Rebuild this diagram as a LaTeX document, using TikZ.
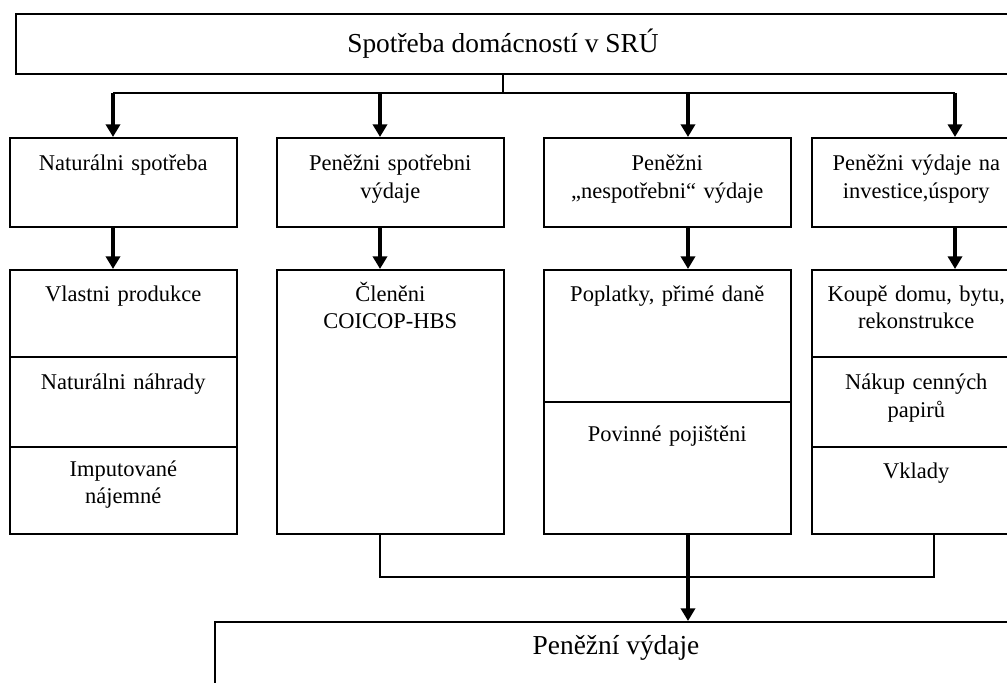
\documentclass[tikz,border=0pt]{standalone}
\usepackage{fontspec}
\setmainfont{Liberation Serif}
\usetikzlibrary{arrows.meta}

\tikzset{
  sect/.style={draw, line width=1.1pt, anchor=north west, inner sep=0pt},
  txt/.style={anchor=north, yshift=-0.44cm, inner sep=0pt, text width=5.1cm,
    align=center, text height=11pt, font=\fontsize{16}{19.8}\selectfont},
  bigtxt/.style={inner sep=0pt, font=\fontsize{19.5}{23}\selectfont},
  wire/.style={line width=0.9pt},
  arr/.style={line width=2.6pt, -{Triangle[width=10pt,length=9pt]}}
}

\begin{document}
\begin{tikzpicture}
  \useasboundingbox (0,0) rectangle (25.175,17.05);
  \clip (0,0) rectangle (25.175,17.05);
  %\draw (0, 0) grid (25, 17);

  \node[sect, minimum width=25.125cm, minimum height=1.5cm] (top) at (0.375,16.725) {};
  \node[bigtxt] (toptxt) at (12.575,15.95) {Spotřeba domácností v SRÚ};

  % first row
  \node[sect, minimum width=5.675cm, minimum height=2.225cm,
    label={[txt]north:{Naturálni spotřeba}}] (n1) at (0.225,13.625) {};
  \node[sect, minimum width=5.675cm, minimum height=2.225cm,
    label={[txt]north:{Peněžni spotřebni\\výdaje}}] (n2) at (6.9,13.625) {};
  \node[sect, minimum width=6.175cm, minimum height=2.225cm,
    label={[txt]north:{Peněžni\\„nespotřebni“ výdaje}}] (n3) at (13.575,13.625) {};
  \node[sect, minimum width=5.225cm, minimum height=2.225cm,
    label={[txt]north:{Peněžni výdaje na\\investice,úspory}}] (n4) at (20.275,13.625) {};

  % second row
  \node[sect, minimum width=5.675cm, minimum height=2.175cm,
    label={[txt, yshift=0.03cm]north:{Vlastni produkce}}] (p1a) at (0.225,10.325) {};
  \node[sect, minimum width=5.675cm, minimum height=2.25cm,
    label={[txt]north:{Naturálni náhrady}}] (p1b) at (0.225,8.15) {};
  \node[sect, minimum width=5.675cm, minimum height=2.175cm,
    label={[txt, yshift=0.08cm]north:{Imputované\\nájemné}}] (p1c) at (0.225,5.9) {};

  \node[sect, minimum width=5.675cm, minimum height=6.6cm,
    label={[txt, yshift=0.03cm]north:{Členěni\\COICOP-HBS}}] (p2) at (6.9,10.325) {};

  \node[sect, minimum width=6.175cm, minimum height=3.3cm,
    label={[txt, yshift=0.03cm]north:{Poplatky, přimé daně}}] (p3a) at (13.575,10.325) {};
  \node[sect, minimum width=6.175cm, minimum height=3.3cm,
    label={[txt, yshift=-0.17cm]north:{Povinné pojištěni}}] (p3b) at (13.575,7.025) {};

  \node[sect, minimum width=5.225cm, minimum height=2.175cm,
    label={[txt, yshift=0.03cm]north:{Koupě domu, bytu,\\rekonstrukce}}] (p4a) at (20.275,10.325) {};
  \node[sect, minimum width=5.225cm, minimum height=2.25cm,
    label={[txt]north:{Nákup cenných\\papirů}}] (p4b) at (20.275,8.15) {};
  \node[sect, minimum width=5.225cm, minimum height=2.175cm,
    label={[txt, yshift=0.03cm]north:{Vklady}}] (p4c) at (20.275,5.9) {};

  \node[sect, minimum width=20.15cm, minimum height=2.5cm] (bot) at (5.35,1.525) {};
  \node[bigtxt] (bottxt) at (15.4,0.85) {Peněžní výdaje};

  % connectors
  \coordinate (b0) at (12.575,14.725);
  \coordinate (a1) at (2.825,14.725);
  \coordinate (a2) at (9.5,14.725);
  \coordinate (a3) at (17.2,14.725);
  \coordinate (a4) at (23.875,14.725);
  \coordinate (m2) at (9.5,2.625);
  \coordinate (m4) at (23.35,2.625);

  \draw[wire] (b0 |- top.south) -- (b0);
  \draw[wire] (a1) -- (a4);
  \foreach \i/\j in {1/p1a, 2/p2, 3/p3a, 4/p4a} {
    \draw[arr] (a\i) -- (a\i |- n\i.north);
    \draw[arr] (n\i.south -| a\i) -- (a\i |- \j.north);
  }

  \draw[wire] (p2.south -| m2) -- (m2) -- (m4) -- (p4c.south -| m4);
  \draw[arr] (p3b.south -| a3) -- (a3 |- bot.north);
\end{tikzpicture}
\end{document}
